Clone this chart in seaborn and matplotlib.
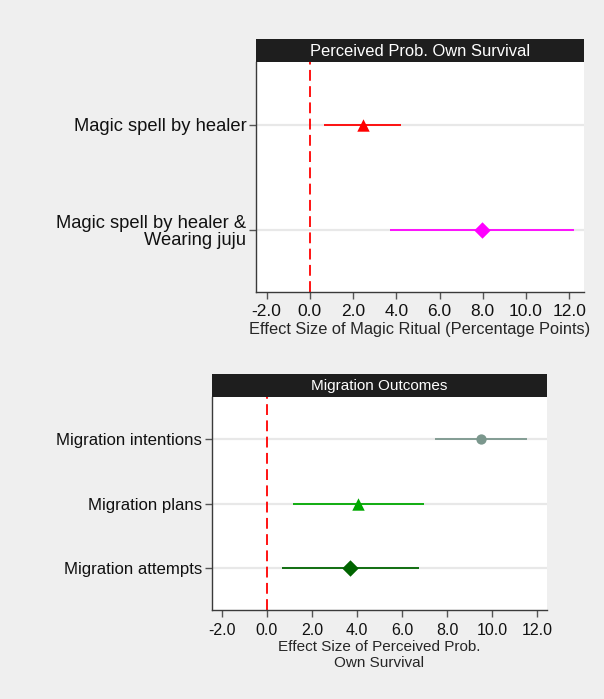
import numpy as np
import pandas as pd
import matplotlib
matplotlib.use("Agg")
import matplotlib.pyplot as plt
import seaborn as sns

# Painel superior: efeito dos rituais mágicos
magic_labels = ["Magic spell by healer", "Magic spell by healer &\nWearing juju"]
magic_est = [2.46, 7.98]
magic_lo = [0.67, 3.72]
magic_hi = [4.23, 12.21]
magic_colors = ["#ff0000", "#ff00ff"]
magic_markers = ["^", "D"]

# Painel inferior: resultados de migração
mig_labels = ["Migration intentions", "Migration plans", "Migration attempts"]
mig_est = [9.50, 4.06, 3.68]
mig_lo = [7.48, 1.16, 0.66]
mig_hi = [11.53, 6.96, 6.74]
mig_colors = ["#7b978d", "#00a800", "#006400"]
mig_markers = ["o", "^", "D"]

xticks = [-2, 0, 2, 4, 6, 8, 10, 12]

sns.set_theme(style="white")
plt.rcParams["font.family"] = ["Liberation Sans", "DejaVu Sans"]

fig = plt.figure(figsize=(6.04, 6.99), dpi=100)
fig.patch.set_facecolor("#efefef")


def painel(rect, bar_rect, labels, est, lo, hi, colors, markers, title,
           xlabel, xlim, ylim, sizes, fs):
    # fs = (rótulos y, ticks x, rótulo x, título)
    ax = fig.add_axes(rect)
    df = pd.DataFrame({"est": est, "pos": np.arange(len(labels)),
                       "lab": labels})
    for i in range(len(labels)):
        ax.axhline(i, color="#e8e8e8", lw=1.6, zorder=0)
    ax.axvline(0, color="#ff0000", lw=1.3, ls=(0, (6, 3)), zorder=1)
    ax.hlines(df["pos"], lo, hi, colors=colors, lw=1.3, zorder=2)
    for i in range(len(labels)):
        sns.scatterplot(data=df.iloc[[i]], x="est", y="pos", ax=ax,
                        color=colors[i], marker=markers[i], s=sizes[i],
                        edgecolor=colors[i], linewidth=0, zorder=3,
                        legend=False)
    ax.set_xlim(*xlim)
    ax.set_ylim(*ylim)
    ax.set_xticks(xticks)
    ax.set_xticklabels([f"{v:.1f}" for v in xticks], fontsize=fs[1])
    ax.set_yticks(df["pos"])
    ax.set_yticklabels(labels, fontsize=fs[0], linespacing=1.0)
    ax.set_xlabel(xlabel, fontsize=fs[2], labelpad=2, linespacing=1.15)
    ax.set_ylabel("")
    ax.set_facecolor("white")
    for s in ["top", "right"]:
        ax.spines[s].set_visible(False)
    for s in ["left", "bottom"]:
        ax.spines[s].set_color("#3a3a3a")
        ax.spines[s].set_linewidth(1.0)
    ax.tick_params(axis="both", which="both", length=5, width=1,
                   color="#555555", direction="out",
                   left=True, bottom=True, labelcolor="#111111")
    ax.tick_params(axis="x", pad=4)
    ax.tick_params(axis="y", pad=2)
    bar = fig.add_axes(bar_rect)
    bar.set_facecolor("#1e1e1e")
    bar.set_xticks([])
    bar.set_yticks([])
    for s in bar.spines.values():
        s.set_visible(False)
    bar.text(0.5, 0.45, title, color="white", fontsize=fs[3], ha="center",
             va="center", transform=bar.transAxes)
    return ax


painel([0.4238, 0.5823, 0.5430, 0.3290], [0.4238, 0.9113, 0.5430, 0.0329],
       magic_labels, magic_est, magic_lo, magic_hi, magic_colors,
       magic_markers, "Perceived Prob. Own Survival",
       "Effect Size of Magic Ritual (Percentage Points)",
       (-2.49, 12.68), (1.596, -0.602), [80, 70], (13.2, 12.5, 11.8, 11.9))

painel([0.3510, 0.1273, 0.5546, 0.3052], [0.3510, 0.4325, 0.5546, 0.0325],
       mig_labels, mig_est, mig_lo, mig_hi, mig_colors, mig_markers,
       "Migration Outcomes",
       "Effect Size of Perceived Prob.\nOwn Survival",
       (-2.44, 12.43), (2.651, -0.656), [55, 80, 70], (12.1, 11.5, 11.0, 11.0))

plt.savefig("out.png", dpi=100, facecolor=fig.get_facecolor())
